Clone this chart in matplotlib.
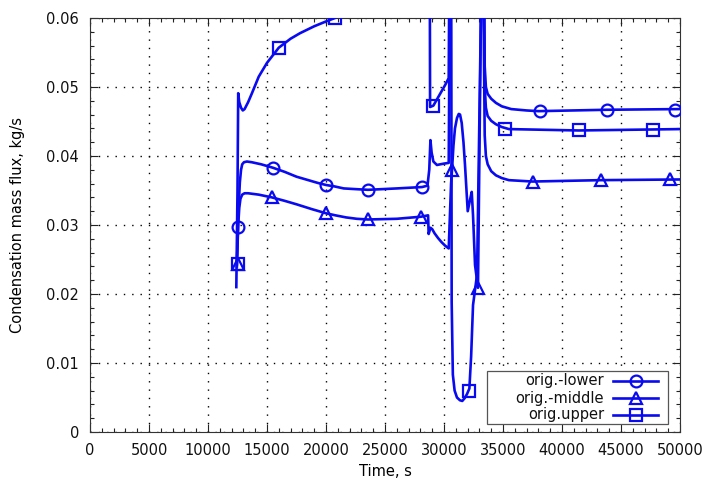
import matplotlib
matplotlib.use("Agg")
import matplotlib.pyplot as plt
from matplotlib.ticker import MultipleLocator, FuncFormatter
from matplotlib.lines import Line2D
from matplotlib.patches import Rectangle

# ---- data (time s, condensation mass flux kg/s) ----
lower_t = [12450, 12540, 12620, 12700, 12800, 12900, 13050, 13300, 13700, 14500,
           15500, 16500, 17500, 18500, 19300, 20000, 20700, 21500, 22500, 23560,
           26000, 28140, 28600, 28750, 28850, 28950, 29100, 29400, 30000, 30400,
           30550, 33350, 33450, 33550, 33700, 34000, 34400, 34900, 35700, 37000,
           38000, 43800, 50000]
lower_v = [0.0240, 0.0297, 0.0335, 0.0362, 0.0380, 0.0388, 0.0391, 0.0392, 0.0391, 0.0388,
           0.0383, 0.0377, 0.0370, 0.0365, 0.0361, 0.0358, 0.0356, 0.0353, 0.0352, 0.0351,
           0.0353, 0.0355, 0.0357, 0.0380, 0.0423, 0.0405, 0.0392, 0.0387, 0.0389, 0.0390,
           0.0800, 0.0800, 0.0530, 0.0500, 0.0490, 0.0483, 0.0477, 0.0472, 0.0468, 0.0466,
           0.0465, 0.0467, 0.0468]
lower_mt = [12540, 15510, 20000, 23560, 28140, 38140, 43810, 49580]
lower_mv = [0.0297, 0.0383, 0.0358, 0.0351, 0.0355, 0.0465, 0.0466, 0.0467]

middle_t = [12450, 12560, 12650, 12750, 12900, 13100, 13400, 14300, 15420, 16500,
            17500, 18800, 20000, 20800, 21700, 22600, 23560, 26000, 28050, 28650,
            28700, 28850, 29000, 29200, 29500, 29800, 30100, 30400, 30600, 30680,
            30800, 30930, 31100, 31250, 31360, 31500, 31650, 31780, 32010, 32200,
            32350, 32460, 32630, 32880, 33250, 33450, 33550, 33700, 34000, 34400,
            34900, 35500, 37500, 43300, 50000]
middle_v = [0.0243, 0.0300, 0.0325, 0.0338, 0.0344, 0.0346, 0.0346, 0.0344, 0.0340, 0.0335,
            0.0330, 0.0323, 0.0317, 0.0314, 0.0311, 0.0309, 0.0308, 0.0309, 0.0312, 0.0314,
            0.0287, 0.0296, 0.0294, 0.0288, 0.0281, 0.0275, 0.0270, 0.0266, 0.0360, 0.0380,
            0.0415, 0.0440, 0.0455, 0.0461, 0.0460, 0.0448, 0.0420, 0.0387, 0.0320, 0.0336,
            0.0348, 0.0314, 0.0242, 0.0209, 0.0800, 0.0430, 0.0400, 0.0388, 0.0378, 0.0372,
            0.0368, 0.0365, 0.0363, 0.0365, 0.0366]
middle_mt = [12540, 15420, 20000, 23560, 28050, 30680, 32880, 37540, 43300, 49150]
middle_mv = [0.0243, 0.0340, 0.0317, 0.0308, 0.0312, 0.0380, 0.0209, 0.0363, 0.0365, 0.0366]

upper_t = [12400, 12500, 12560, 12650, 12800, 12950, 13100, 13400, 13700, 14300,
           15000, 16000, 17000, 17800, 19000, 20000, 20760, 22000, 28780, 28820,
           29100, 29600, 30100, 30400, 30500, 30600, 30650, 30750, 30900, 31100,
           31350, 31550, 31750, 31950, 32150, 32300, 32460, 32800, 33300, 33450,
           33550, 33700, 34000, 34400, 34900, 35500, 41400, 50000]
upper_v = [0.0210, 0.0350, 0.0491, 0.0478, 0.0470, 0.0466, 0.0468, 0.0478, 0.0490, 0.0515,
           0.0535, 0.0557, 0.0570, 0.0578, 0.0588, 0.0595, 0.0600, 0.0610, 0.0800, 0.0471,
           0.0473, 0.0488, 0.0503, 0.0513, 0.0800, 0.0800, 0.0188, 0.0083, 0.0060, 0.0050,
           0.0046, 0.0045, 0.0049, 0.0055, 0.0063, 0.0110, 0.0184, 0.0228, 0.0800, 0.0500,
           0.0470, 0.0458, 0.0451, 0.0446, 0.0442, 0.0439, 0.0437, 0.0439]
upper_mt = [12540, 16020, 20760, 29070, 32120, 35170, 41440, 47710]
upper_mv = [0.0243, 0.0557, 0.0600, 0.0472, 0.0059, 0.0439, 0.0437, 0.0438]

labels = ["orig.-lower", "orig.-middle", "orig.upper"]
markers = ["o", "^", "s"]

x_ticks = list(range(0, 50001, 5000))
y_ticks = [0, 0.01, 0.02, 0.03, 0.04, 0.05, 0.06]

# ---- figure ----
plt.rcParams['font.family'] = ['DejaVu Sans']
fig = plt.figure(figsize=(7.04, 4.87), dpi=100)
ax = fig.add_axes([90/704, 55/487, 590/704, 414/487])

blue = "#0a0af0"
lw = 1.9
ms = 8.5
series = [(lower_t, lower_v, lower_mt, lower_mv),
          (middle_t, middle_v, middle_mt, middle_mv),
          (upper_t, upper_v, upper_mt, upper_mv)]
for (t, v, mt, mv), mk in zip(series, markers):
    ax.plot(t, v, color=blue, lw=lw, solid_joinstyle='round', zorder=3)
    ax.plot(mt, mv, linestyle='none', marker=mk, ms=ms, mfc='none', mec=blue,
            mew=1.6, zorder=4)

ax.set_xlim(0, 50000)
ax.set_ylim(0, 0.06)
ax.set_xticks(x_ticks)
ax.set_yticks(y_ticks)
ax.xaxis.set_minor_locator(MultipleLocator(1000))
ax.yaxis.set_minor_locator(MultipleLocator(0.002))
ax.yaxis.set_major_formatter(FuncFormatter(lambda y, p: "%g" % round(y, 4)))
ax.xaxis.set_major_formatter(FuncFormatter(lambda x, p: "%d" % x))
ax.tick_params(which='both', direction='in', top=True, right=True, colors='#222222',
               labelsize=10.5, labelcolor='#111111')
ax.tick_params(which='major', length=6, width=0.8, pad=8)
ax.tick_params(which='minor', length=3, width=0.8)
ax.grid(which='major', color='black', linestyle=(0, (1, 5)), linewidth=1.0)
for s in ax.spines.values():
    s.set_color('#333333')
    s.set_linewidth(0.8)

ax.set_xlabel("Time, s", fontsize=10.5, labelpad=4)
ax.set_ylabel("Condensation mass flux, kg/s", fontsize=10.5, labelpad=15)

# ---- gnuplot-style legend (text right-aligned, sample on the right) ----
def ax_xy(px, py):
    return ((px - 90) / 590, (432 - py) / 414)

x0, y0 = ax_xy(487, 424)
x1, y1 = ax_xy(668, 371)
ax.add_patch(Rectangle((x0, y0), x1 - x0, y1 - y0, transform=ax.transAxes,
                       facecolor='white', edgecolor='#555555', lw=0.9, zorder=5))
row_py = [381, 398, 415]
for lab, mk, py in zip(labels, markers, row_py):
    tx, ty = ax_xy(604, py)
    ax.text(tx, ty, lab, transform=ax.transAxes, ha='right', va='center',
            fontsize=10.5, color='#111111', zorder=6)
    lx0, _ = ax_xy(613, py)
    lx1, _ = ax_xy(658, py)
    ax.add_line(Line2D([lx0, lx1], [ty, ty], transform=ax.transAxes, color=blue,
                       lw=lw, zorder=6))
    ax.add_line(Line2D([(lx0 + lx1) / 2], [ty], transform=ax.transAxes,
                       marker=mk, ms=ms, mfc='none', mec=blue, mew=1.6, zorder=7))

fig.savefig("out.png", dpi=100)
